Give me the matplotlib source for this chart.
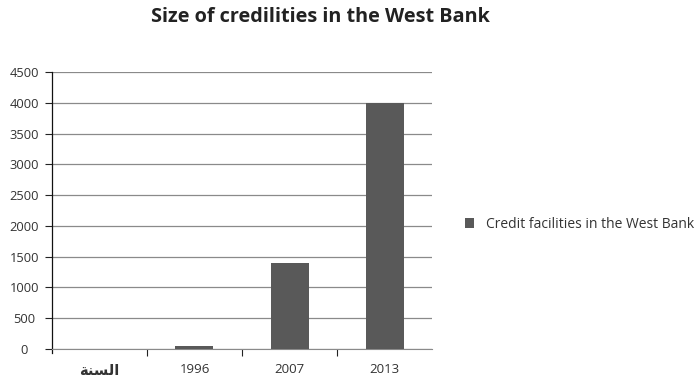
import matplotlib
matplotlib.use("Agg")
import matplotlib.pyplot as plt
import numpy as np

# data
years = ["\uFE94\uFEE8\uFEB4\uFEDF\uFE8D", "1996", "2007", "2013"]  # "السنة" in presentation forms
credit = [0, 45, 1400, 4000]
yticks = [0, 500, 1000, 1500, 2000, 2500, 3000, 3500, 4000, 4500]

plt.rcParams["font.family"] = ["Open Sans", "DejaVu Sans"]

fig = plt.figure(figsize=(6.96, 3.82), dpi=100)
ax = fig.add_axes([0.0747, 0.0864, 0.546, 0.7251])

x = np.arange(len(years))
ax.bar(x, credit, width=0.4, color="#595959", zorder=3,
       label="Credit facilities in the West Bank")

ax.set_xlim(-0.5, len(years) - 0.5)
ax.set_ylim(0, 4500)
ax.set_yticks(yticks)
ax.set_yticklabels([str(v) for v in yticks], fontsize=9.3, color="#333333", ha="center")
ax.tick_params(axis="y", length=5, width=0.8, color="#222222", pad=15)
ax.yaxis.grid(True, color="#8a8a8a", linewidth=0.9, zorder=0)

ax.set_xticks(x)
ax.set_xticklabels(years, fontsize=9.5, color="#333333")
ax.get_xticklabels()[0].set_fontweight("bold")
ax.get_xticklabels()[0].set_family(["DejaVu Sans"])
ax.get_xticklabels()[0].set_fontsize(10.5)
ax.tick_params(axis="x", length=0, pad=10)
ax.set_xticks(x[:-1] + 0.5, minor=True)
ax.tick_params(axis="x", which="minor", length=5, width=0.8, color="#222222")

for s in ["top", "right"]:
    ax.spines[s].set_visible(False)
ax.spines["left"].set_color("#111111")
ax.spines["left"].set_linewidth(0.9)
ax.spines["left"].set_bounds(-70, 4500)
ax.spines["bottom"].set_color("#8a8a8a")

fig.text(0.461, 0.955, "Size of credilities in the West Bank", ha="center", va="center",
         fontsize=14.3, fontweight="bold", color="#222222")

leg = ax.legend(loc="center left", bbox_to_anchor=(1.086, 0.45), frameon=False,
                fontsize=10, handlelength=0.7, handleheight=0.7, handletextpad=0.8,
                borderaxespad=0, borderpad=0)
for t in leg.get_texts():
    t.set_color("#333333")
ax.spines["left"].set_clip_on(False)

fig.savefig("out.png", dpi=100)
